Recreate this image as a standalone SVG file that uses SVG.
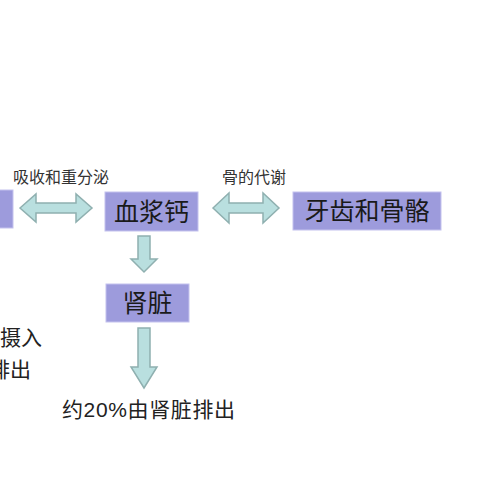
<svg xmlns="http://www.w3.org/2000/svg" width="500" height="500" viewBox="0 0 500 500">
<style>
.box{fill:#9d9bdc;stroke:#c4c2ee;stroke-width:1}
.arr{fill:#b9dfdf;stroke:#8fb0b0;stroke-width:1.5;stroke-linejoin:miter}
.nt{font-family:"Liberation Serif","Noto Sans CJK SC",serif;font-size:25px;fill:#1a1a1a}
.lb{font-family:"Liberation Serif","Noto Sans CJK SC",serif;font-size:16px;fill:#333}
.tx{font-family:"Liberation Sans","Noto Sans CJK SC",sans-serif;font-size:21px;fill:#222}
</style>
<rect width="500" height="500" fill="#fff"/>
<g id="connectors">
<path class="arr" d="M20,208 L36,194 L36,203 L76,203 L76,194 L92,208 L76,222 L76,213 L36,213 L36,222 Z"/>
<path class="arr" d="M213,208 L229,193 L229,203 L263,203 L263,193 L279,208 L263,223 L263,213 L229,213 L229,223 Z"/>
<path class="arr" d="M138,236 L150,236 L150,259 L157,259 L144,272 L131,259 L138,259 Z"/>
<path class="arr" d="M138,328 L150,328 L150,367 L157,367 L144,388 L131,367 L138,367 Z"/>
</g>
<g id="node-left"><rect class="box" x="-5" y="190" width="18" height="38"/></g>
<g id="label-absorb"><text class="lb" x="13" y="183">吸收和重分泌</text></g>
<g id="label-bone"><text class="lb" x="222" y="183">骨的代谢</text></g>
<g id="node-plasma"><rect class="box" x="105" y="192" width="93" height="39"/><text class="nt" x="151.5" y="221" text-anchor="middle">血浆钙</text></g>
<g id="node-teeth"><rect class="box" x="293" y="192" width="148" height="38"/><text class="nt" x="367" y="220" text-anchor="middle">牙齿和骨骼</text></g>
<g id="node-kidney"><rect class="box" x="106" y="284" width="83" height="38"/><text class="nt" x="147.5" y="312" text-anchor="middle">肾脏</text></g>
<g id="left-text"><text class="tx" x="0" y="345">摄入</text><text class="tx" x="-11" y="377">排出</text></g>
<g id="bottom-text"><text class="tx" x="62" y="417" font-size="22" textLength="173" lengthAdjust="spacing">约20%由肾脏排出</text></g>
</svg>
